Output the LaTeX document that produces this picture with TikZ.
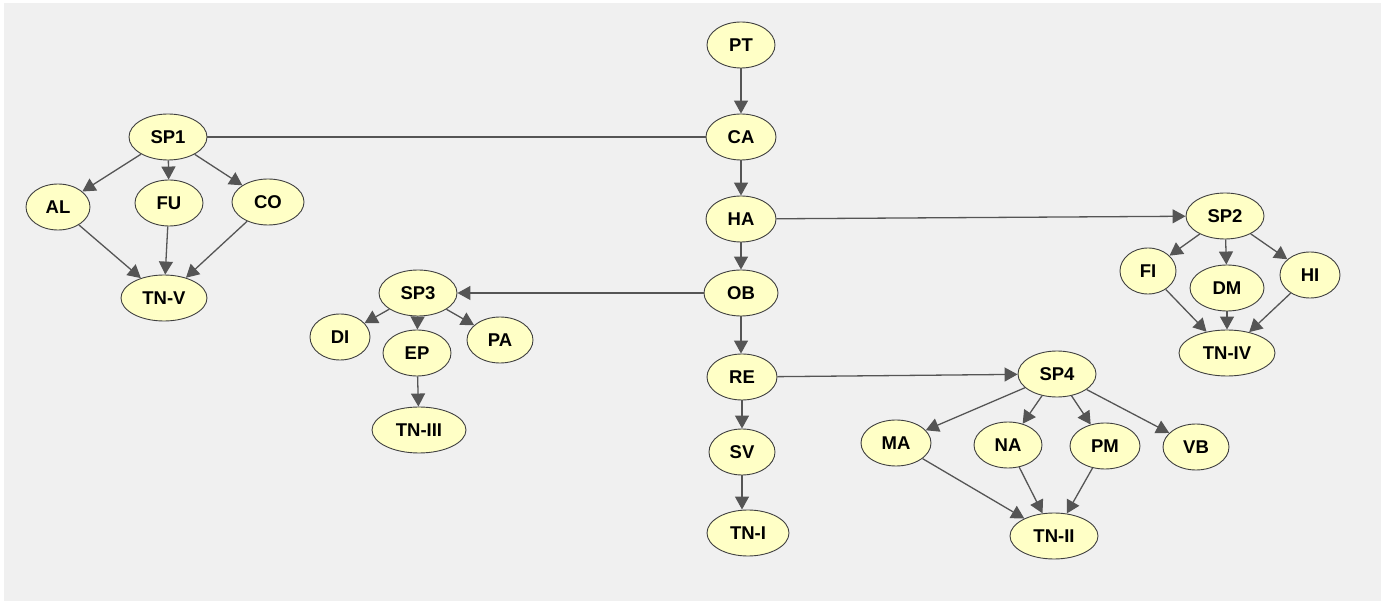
\documentclass[tikz,border=0pt]{standalone}
\usepackage{fontspec}
\setmainfont{Liberation Sans}
\usetikzlibrary{shapes.geometric,arrows.meta}
\definecolor{bggray}{HTML}{F0F0F0}
\definecolor{nodefill}{HTML}{FFFFC6}
\definecolor{nodeline}{HTML}{404040}
\definecolor{edgecol}{HTML}{555555}
\tikzset{
  nd/.style={ellipse, draw=nodeline, line width=0.9pt, fill=nodefill, inner sep=0pt,
    minimum height=46pt, font=\fontsize{18.5}{18.5}\selectfont\bfseries, text=black},
  ar/.style={draw=edgecol, line width=1.3pt, -{Triangle[length=13pt,width=14pt]}, color=edgecol},
  ln/.style={draw=edgecol, line width=1.3pt}
}
\begin{document}
\begin{tikzpicture}[x=1pt,y=-1pt]
\useasboundingbox (0,0) rectangle (1385,601);
\fill[white] (0,0) rectangle (1385,601);
\fill[bggray] (4,3) rectangle (1381,601);
% main column
\node[nd, minimum width=68pt] (PT) at (741,45) {PT};
\node[nd, minimum width=70pt] (CA) at (741,137) {CA};
\node[nd, minimum width=70pt] (HA) at (741,219) {HA};
\node[nd, minimum width=74pt] (OB) at (741,293) {OB};
\node[nd, minimum width=70pt] (RE) at (742,377) {RE};
\node[nd, minimum width=66pt] (SV) at (742,452) {SV};
\node[nd, minimum width=82pt] (TNI) at (748,533) {TN-I};
% SP1 group
\node[nd, minimum width=78pt] (SP1) at (168,137) {SP1};
\node[nd, minimum width=64pt] (AL) at (58,207) {AL};
\node[nd, minimum width=68pt] (FU) at (169,203) {FU};
\node[nd, minimum width=72pt] (CO) at (268,202) {CO};
\node[nd, minimum width=86pt] (TNV) at (164,298) {TN-V};
% SP3 group
\node[nd, minimum width=78pt] (SP3) at (418,293) {SP3};
\node[nd, minimum width=60pt] (DI) at (340,337) {DI};
\node[nd, minimum width=68pt] (EP) at (417,353) {EP};
\node[nd, minimum width=66pt] (PA) at (500,340) {PA};
\node[nd, minimum width=94pt] (TNIII) at (419,430) {TN-III};
% SP2 group
\node[nd, minimum width=78pt] (SP2) at (1225,216) {SP2};
\node[nd, minimum width=56pt] (FI) at (1148,271) {FI};
\node[nd, minimum width=74pt] (DM) at (1227,288) {DM};
\node[nd, minimum width=60pt] (HI) at (1310,275) {HI};
\node[nd, minimum width=96pt] (TNIV) at (1227,353) {TN-IV};
% SP4 group
\node[nd, minimum width=78pt] (SP4) at (1057,374) {SP4};
\node[nd, minimum width=70pt] (MA) at (896,443) {MA};
\node[nd, minimum width=68pt] (NA) at (1008,445) {NA};
\node[nd, minimum width=70pt] (PM) at (1105,446) {PM};
\node[nd, minimum width=66pt] (VB) at (1196,447) {VB};
\node[nd, minimum width=88pt] (TNII) at (1054,536) {TN-II};
% edges
\draw[ar] (PT) -- (CA);
\draw[ar] (CA) -- (HA);
\draw[ar] (HA) -- (OB);
\draw[ar] (OB.south) -- (OB.south |- RE.north);
\draw[ar] (RE) -- (SV);
\draw[ar] (SV.south) -- (SV.south |- TNI.north);
\draw[ln] (SP1) -- (CA);
\draw[ar] (HA) -- (SP2);
\draw[ar] (OB) -- (SP3);
\draw[ar] (RE) -- (SP4);
\draw[ar] (SP1) -- (AL);
\draw[ar] (SP1) -- (FU);
\draw[ar] (SP1) -- (CO);
\draw[ar] (AL) -- (TNV);
\draw[ar] (FU) -- (TNV);
\draw[ar] (CO) -- (TNV);
\draw[ar] (SP3) -- (DI);
\draw[ar] (SP3) -- (EP);
\draw[ar] (SP3) -- (PA);
\draw[ar] (EP) -- (TNIII);
\draw[ar] (SP2) -- (FI);
\draw[ar] (SP2) -- (DM);
\draw[ar] (SP2) -- (HI);
\draw[ar] (FI) -- (TNIV);
\draw[ar] (DM) -- (TNIV);
\draw[ar] (HI) -- (TNIV);
\draw[ar] (SP4) -- (MA);
\draw[ar] (SP4) -- (NA);
\draw[ar] (SP4) -- (PM);
\draw[ar] (SP4) -- (VB);
\draw[ar] (MA) -- (TNII);
\draw[ar] (NA) -- (TNII);
\draw[ar] (PM) -- (TNII);
\end{tikzpicture}
\end{document}
